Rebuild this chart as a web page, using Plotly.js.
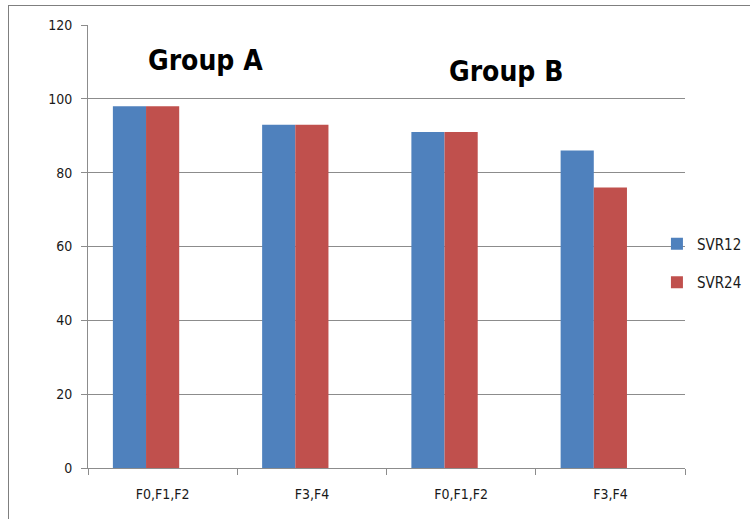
<!DOCTYPE html>
<html>
<head>
<meta charset="utf-8">
<script src="https://cdn.plot.ly/plotly-3.0.1.min.js"></script>
<style>
  html, body { margin: 0; padding: 0; background: #fff; }
  #frame { position: absolute; left: 0; top: 0; width: 750px; height: 519px; }
  #border { position: absolute; left: 8px; top: 5px; width: 760px; height: 530px;
            border-left: 1px solid #7f7f7f; border-top: 1px solid #7f7f7f; pointer-events: none; }
  #chart { position: absolute; left: 0; top: 0; width: 750px; height: 519px; }
</style>
</head>
<body>
<div id="frame">
  <div id="chart"></div>
  <div id="border"></div>
</div>
<script>
// Fibrosis-stage categories, two per group
const categories = ["F0,F1,F2", "F3,F4", "F0,F1,F2", "F3,F4"];
const groupNames = ["Group A", "Group B"];
// Sustained virological response rates (%)
const svr12 = [98, 93, 91, 86];
const svr24 = [98, 93, 91, 76];
const yTicks = [0, 20, 40, 60, 80, 100, 120];

const idx = categories.map((_, i) => i);
const font = "'DejaVu Sans Condensed', 'Liberation Sans Narrow', Lato, sans-serif";

// each category holds three bar slots; the pair sits in the first two
const slot = 2 / 9;
const traces = [
  { type: "bar", name: "SVR12", x: idx, y: svr12, marker: { color: "#4F81BD" },
    width: slot, offset: -1.5 * slot, legendgroup: "a", hoverinfo: "y" },
  { type: "bar", name: "SVR24", x: idx, y: svr24, marker: { color: "#C0504D" },
    width: slot, offset: -0.5 * slot, legendgroup: "b", hoverinfo: "y" },
  // carries the category labels on the overlaid axis
  { type: "scatter", mode: "markers", x: idx, y: svr12, xaxis: "x2",
    marker: { opacity: 0 }, showlegend: false, hoverinfo: "skip" }
];

// category boundaries for the tick marks
const bounds = [];
for (let i = 0; i <= categories.length; i++) bounds.push(i - 0.5);

const layout = {
  width: 750, height: 519,
  margin: { l: 88, r: 65, t: 25, b: 51, autoexpand: false },
  paper_bgcolor: "rgba(0,0,0,0)",
  plot_bgcolor: "#fff",
  barmode: "overlay",
  font: { family: font, size: 14, color: "#1a1a1a" },
  xaxis: {
    range: [-0.5, categories.length - 0.5],
    tickmode: "array", tickvals: bounds, showticklabels: false,
    ticks: "outside", ticklen: 6, tickcolor: "#8c8c8c",
    showline: true, linecolor: "#8c8c8c", showgrid: false, zeroline: false
  },
  xaxis2: {
    overlaying: "x", side: "bottom",
    range: [-0.5, categories.length - 0.5],
    tickmode: "array", tickvals: idx, ticktext: categories,
    ticks: "", showline: false, showgrid: false, zeroline: false,
    ticklabelstandoff: 16,
    tickfont: { family: font, size: 14, color: "#1a1a1a" }
  },
  yaxis: {
    range: [0, 120],
    tickmode: "array", tickvals: yTicks,
    ticks: "outside", ticklen: 6, tickcolor: "#8c8c8c",
    showline: true, linecolor: "#8c8c8c",
    showgrid: true, gridcolor: "#8c8c8c", gridwidth: 1, zeroline: false,
    ticklabelstandoff: 6,
    tickfont: { family: font, size: 14, color: "#1a1a1a" }
  },
  legend: {
    x: 0.953, xanchor: "left", y: 0.463, yanchor: "middle",
    traceorder: "grouped", tracegroupgap: 16,
    font: { family: font, size: 15, color: "#1a1a1a" },
    bgcolor: "rgba(0,0,0,0)"
  },
  annotations: [
    { text: "<b>" + groupNames[0] + "</b>", x: 0.29, y: 110.5, xref: "x", yref: "y",
      showarrow: false, font: { family: font, size: 28, color: "#000" } },
    { text: "<b>" + groupNames[1] + "</b>", x: 2.30, y: 107.3, xref: "x", yref: "y",
      showarrow: false, font: { family: font, size: 28, color: "#000" } }
  ]
};

Plotly.newPlot("chart", traces, layout, { displayModeBar: false, staticPlot: true });
</script>
</body>
</html>
